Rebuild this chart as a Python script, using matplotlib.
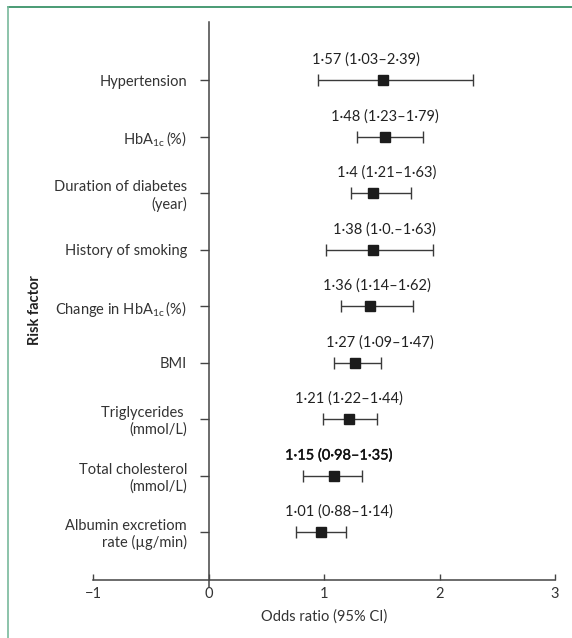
import matplotlib
matplotlib.use("Agg")
import matplotlib.pyplot as plt
import matplotlib.patheffects as pe
from matplotlib.lines import Line2D

plt.rcParams["font.family"] = ["Lato", "DejaVu Sans"]

# Risk factors, top to bottom
factors = [
    "Hypertension",
    r"HbA$_{\mathregular{1c}}\,$(%)",
    "Duration of diabetes\n(year)",
    "History of smoking",
    r"Change in HbA$_{\mathregular{1c}}\,$(%)",
    "BMI",
    "Triglycerides \n(mmol/L)",
    "Total cholesterol\n(mmol/L)",
    "Albumin excretiom\nrate (\u00b5g/min)",
]

# plotted estimates and interval ends
odds = [1.51, 1.53, 1.42, 1.42, 1.40, 1.27, 1.22, 1.09, 0.97]
ci_low = [0.95, 1.29, 1.23, 1.02, 1.15, 1.09, 0.99, 0.82, 0.76]
ci_high = [2.29, 1.86, 1.75, 1.94, 1.77, 1.49, 1.46, 1.33, 1.19]

# printed annotations, as they appear
notes = [
    "1\u00b757 (1\u00b703\u20132\u00b739)",
    "1\u00b748 (1\u00b723\u20131\u00b779)",
    "1\u00b74 (1\u00b721\u20131\u00b763)",
    "1\u00b738 (1\u00b70.\u20131\u00b763)",
    "1\u00b736 (1\u00b714\u20131\u00b762)",
    "1\u00b727 (1\u00b709\u20131\u00b747)",
    "1\u00b721 (1\u00b722\u20131\u00b744)",
    "1\u00b715 (0\u00b798\u20131\u00b735)",
    "1\u00b701 (0\u00b788\u20131\u00b714)",
]
note_x = [1.36, 1.53, 1.54, 1.52, 1.46, 1.48, 1.22, 1.13, 1.13]

x_ticks = [-1, 0, 1, 2, 3]
x_ticklabels = ["\u22121", "0", "1", "2", "3"]

W, H = 572, 638
fig = plt.figure(figsize=(W / 100, H / 100), dpi=100)
ax = fig.add_axes([93 / W, (H - 580) / H, 462 / W, 558 / H])

n = len(factors)
rows = list(range(n - 1, -1, -1))

dark = "#1c1c1c"
line_c = "#3a3a3a"

ax.errorbar(odds, rows,
            xerr=[[o - l for o, l in zip(odds, ci_low)],
                  [h - o for o, h in zip(odds, ci_high)]],
            fmt="s", color=dark, ecolor=line_c, elinewidth=1.0,
            capsize=4.6, capthick=1.0, markersize=7, zorder=3)

for i, r in enumerate(rows):
    t = ax.annotate(notes[i], (note_x[i], r), xytext=(0, 14.5),
                    textcoords="offset points", ha="center", va="center",
                    fontsize=10.5, color="#222222")
    if i == 7:
        # this one is printed a touch heavier
        t.set_color("#111111")
        t.set_path_effects([pe.withStroke(linewidth=0.25, foreground="#111111")])

ax.set_xlim(-1, 3)
ax.set_ylim(-0.85, n - 1 + 1.03)

for s in ["top", "right"]:
    ax.spines[s].set_visible(False)
ax.spines["left"].set_position(("data", 0))
ax.spines["left"].set_bounds(-0.97, n - 1 + 1.03)
for s in ["left", "bottom"]:
    ax.spines[s].set_color("#444444")
    ax.spines[s].set_linewidth(1.1)

ax.set_xticks(x_ticks)
ax.set_xticklabels(x_ticklabels)
ax.tick_params(axis="x", direction="in", length=4.5, width=1.0,
               colors="#444444", labelcolor="#333333", labelsize=10.5, pad=5)
ax.set_yticks(rows)
ax.set_yticklabels(factors)
ax.tick_params(axis="y", direction="out", length=6.5, width=1.0,
               colors="#444444", labelcolor="#333333", labelsize=10.5, pad=9)

ax.set_xlabel("Odds ratio (95% CI)", fontsize=10.5, color="#333333", labelpad=6)
ax.set_ylabel("Risk factor", fontsize=10.5, fontweight="bold", color="#222222")
ax.yaxis.set_label_coords(-0.11, 0.484)

# journal frame: top and left rules
fig.add_artist(Line2D([8 / W, 1], [1 - 7 / H, 1 - 7 / H], color="#2a8a5c",
                      linewidth=1.2, transform=fig.transFigure))
fig.add_artist(Line2D([8 / W, 8 / W], [0, 1 - 7 / H], color="#79b99c",
                      linewidth=1.2, transform=fig.transFigure))

fig.savefig("out.png", dpi=100)
